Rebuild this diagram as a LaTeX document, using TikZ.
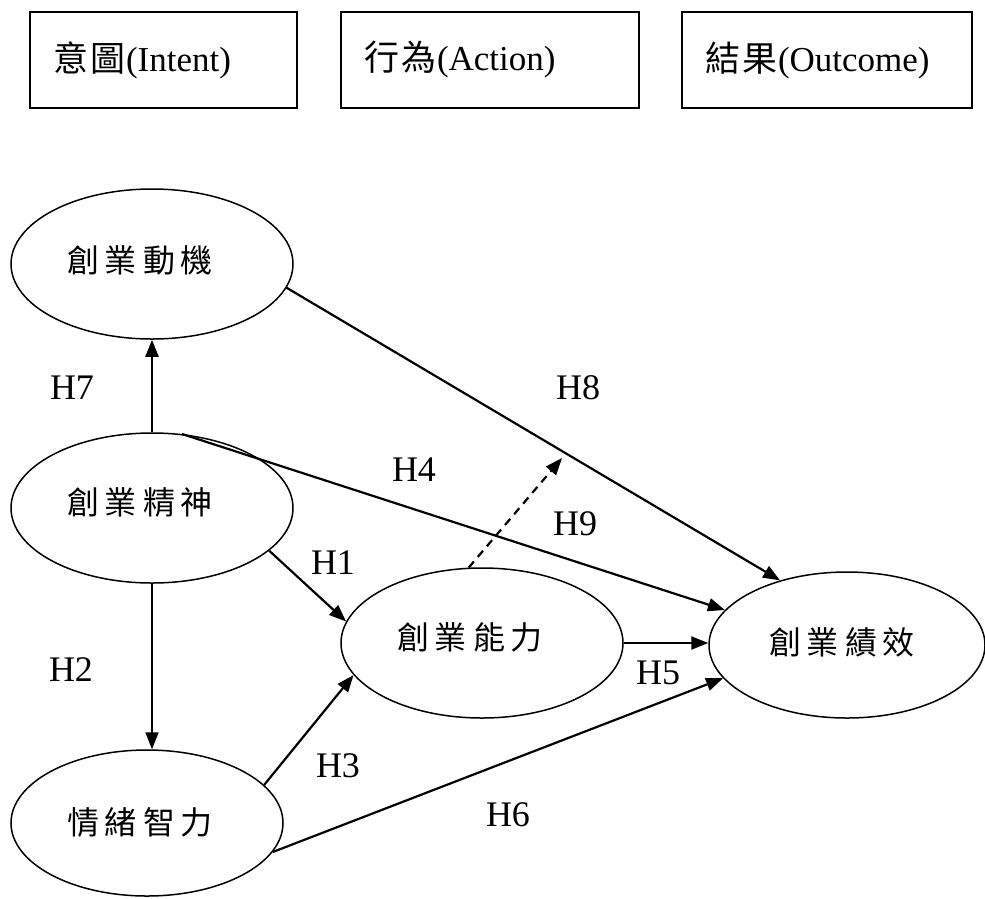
\documentclass[tikz,border=0pt]{standalone}
\usepackage{fontspec}
\setmainfont{Liberation Serif}
\newfontfamily\cjk{Noto Sans CJK TC}
\usetikzlibrary{shapes.geometric,arrows.meta}
\newcommand\gap{\hspace{6pt}}
\begin{document}
\begin{tikzpicture}[x=1pt,y=-1pt,
  box/.style={draw,line width=1.6pt,minimum height=96pt,inner xsep=23pt,inner ysep=0pt,align=left,
              font=\fontsize{35}{35}\selectfont},
  ell/.style={draw,ellipse,line width=1.5pt,inner sep=0pt,minimum width=282pt,minimum height=150pt},
  etext/.style={font=\cjk\fontsize{32}{32}\selectfont,inner sep=0pt},
  arr/.style={line width=2.2pt,-{Triangle[length=17pt,width=13pt]}},
  lab/.style={font=\fontsize{36}{36}\selectfont,inner sep=0pt}]
\useasboundingbox (0,0) rectangle (985,898);

% top boxes
\node[box,text width=221pt] (b1) at (163.5,60) {{\cjk 意\hspace{3pt}圖}(Intent)};
\node[box,text width=252pt] (b2) at (490,60) {{\cjk 行\hspace{3pt}為}(Action)};
\node[box,text width=244pt] (b3) at (827,60) {{\cjk 結\hspace{3pt}果}(Outcome)};

% ellipses
\node[ell,label={[etext,xshift=-12pt,yshift=4pt]center:創\gap 業\gap 動\gap 機}] (M) at (152,264) {};
\node[ell,label={[etext,xshift=-12pt,yshift=5pt]center:創\gap 業\gap 精\gap 神}] (S) at (152,508) {};
\node[ell,minimum width=272pt,minimum height=146pt,label={[etext,xshift=-7pt,yshift=1pt]center:情\gap 緒\gap 智\gap 力}] (E) at (147,823) {};
\node[ell,label={[etext,xshift=-12pt,yshift=6pt]center:創\gap 業\gap 能\gap 力}] (C) at (482,643) {};
\node[ell,minimum width=276pt,minimum height=146pt,label={[etext,xshift=-5pt,yshift=3pt]center:創\gap 業\gap 績\gap 效}] (P) at (847,645) {};

\coordinate (d9) at (562,458);

% connectors
\draw[arr] (S.north) -- (M.south);
\draw[arr] (S.south) -- (S.south |- E.north);
\draw[arr] (M.-10.5) -- (P.136);
\draw[arr] (S.68) -- (P.164);
\draw[arr] (S.-20.8) -- (C.171);
\draw[arr] (E.18) -- (C.194);
\draw[arr] (E.-13.4) -- (P.195);
\draw[arr] (C.east) -- (C.east -| P.west);
\draw[arr,dash pattern=on 8pt off 6pt] (C.100.6) -- (d9);

% labels
\node[lab] (l7) at (72,388) {H7};
\node[lab] (l8) at (578,388) {H8};
\node[lab] (l4) at (414,470) {H4};
\node[lab] (l9) at (575,524) {H9};
\node[lab] (l1) at (333,563) {H1};
\node[lab] (l2) at (71,670) {H2};
\node[lab] (l5) at (658,673) {H5};
\node[lab] (l3) at (338,766) {H3};
\node[lab] (l6) at (508,815) {H6};
\end{tikzpicture}
\end{document}
